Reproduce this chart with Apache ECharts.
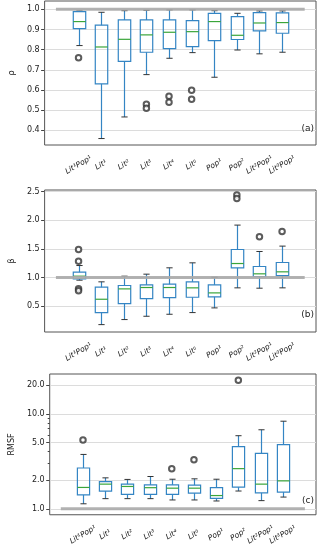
<!DOCTYPE html>
<html>
<head>
<meta charset="UTF-8">
<title>Boxplots rho beta RMSF</title>
<script src="https://cdn.jsdelivr.net/npm/echarts@6/dist/echarts.min.js"></script>
<style>
    body { margin: 0; padding: 0; background: #fff; }
    #chart { width: 320px; height: 547px; }
</style>
</head>
<body>
<div id="chart"></div>
<script>
    // categories (superscripts as unicode)
    var categories = ['Lit¹Pop¹', 'Lit¹', 'Lit²', 'Lit³', 'Lit⁴', 'Lit⁵', 'Pop¹', 'Pop²', 'Lit²Pop¹', 'Lit³Pop¹'];

    // box stats: [low whisker, Q1, median, Q3, high whisker]
    var rhoBoxes = [
        [0.820, 0.904, 0.939, 0.988, 0.992],
        [0.359, 0.630, 0.813, 0.921, 0.985],
        [0.466, 0.742, 0.851, 0.947, 0.993],
        [0.676, 0.787, 0.873, 0.947, 0.995],
        [0.757, 0.805, 0.886, 0.947, 0.997],
        [0.785, 0.815, 0.889, 0.944, 0.997],
        [0.663, 0.845, 0.939, 0.980, 0.993],
        [0.798, 0.850, 0.871, 0.964, 0.980],
        [0.779, 0.893, 0.932, 0.983, 0.992],
        [0.787, 0.881, 0.934, 0.982, 0.992]
    ];
    var rhoOutliers = [[0, 0.759], [3, 0.529], [3, 0.509], [4, 0.569], [4, 0.539], [5, 0.598], [5, 0.554]];

    var betaBoxes = [
        [0.955, 0.978, 1.025, 1.095, 1.211],
        [0.179, 0.389, 0.622, 0.832, 0.926],
        [0.267, 0.547, 0.803, 0.862, 1.025],
        [0.325, 0.634, 0.827, 0.873, 1.060],
        [0.360, 0.652, 0.827, 0.885, 1.171],
        [0.389, 0.657, 0.821, 0.926, 1.258],
        [0.471, 0.663, 0.733, 0.873, 1.007],
        [0.821, 1.171, 1.246, 1.491, 1.917],
        [0.815, 1.019, 1.066, 1.194, 1.456],
        [0.821, 1.036, 1.101, 1.264, 1.550]
    ];
    var betaOutliers = [[0, 1.491], [0, 1.287], [0, 0.805], [0, 0.770], [7, 2.442], [7, 2.383], [8, 1.713], [9, 1.806]];

    var rmsfBoxes = [
        [1.13, 1.40, 1.68, 2.69, 3.74],
        [1.28, 1.54, 1.82, 1.93, 2.12],
        [1.28, 1.42, 1.72, 1.82, 2.04],
        [1.28, 1.42, 1.67, 1.79, 2.19],
        [1.24, 1.42, 1.65, 1.79, 2.05],
        [1.24, 1.46, 1.65, 1.78, 2.07],
        [1.21, 1.29, 1.38, 1.67, 2.05],
        [1.54, 1.69, 2.65, 4.53, 5.89],
        [1.22, 1.47, 1.82, 3.83, 6.80],
        [1.33, 1.50, 1.97, 4.75, 8.37]
    ];
    var rmsfOutliers = [[0, 5.31], [4, 2.65], [5, 3.29], [7, 22.6]];

    // ideal value drawn as a gray line on every panel
    var idealValue = 1.0;

    // tick values
    var rhoTicks = [0.4, 0.5, 0.6, 0.7, 0.8, 0.9, 1.0];
    var betaTicks = [0.5, 1.0, 1.5, 2.0, 2.5];
    var rmsfTicks = [1, 2, 5, 10, 20];
    var rmsfMinorTicks = [3, 4, 6, 7, 8, 9];

    var font = 'DejaVu Sans';
    var padded = [''].concat(categories, ['']);

    var chart = echarts.init(document.getElementById('chart'));

    function xAxisFor(grid) {
        return {
            type: 'category', gridIndex: grid, data: padded,
            boundaryGap: true,
            axisLine: { show: false },
            axisTick: {
                alignWithLabel: true, length: 3.5, inside: false,
                interval: function (i, v) { return v !== ''; },
                lineStyle: { color: '#444', width: 1 }
            },
            axisLabel: {
                interval: 0, rotate: 30, align: 'center', verticalAlign: 'middle', margin: 20,
                fontFamily: font, fontStyle: 'italic', fontSize: 7.5, color: '#222'
            },
            splitLine: { show: false }
        };
    }

    function yAxisFor(grid, name, ticks, min, max, type, gap) {
        return {
            type: type, gridIndex: grid, min: min, max: max, position: 'left', offset: 0,
            name: name, nameLocation: 'middle', nameGap: gap,
            nameTextStyle: { fontFamily: font, fontSize: 8, color: '#222' },
            axisLine: { show: false },
            axisTick: { show: true, customValues: ticks, length: 3.5, lineStyle: { color: '#444' } },
            axisLabel: {
                customValues: ticks, fontFamily: font, fontSize: 8, color: '#222', margin: 5,
                formatter: function (v) { return Number(v).toFixed(1); }
            },
            splitLine: { show: true, lineStyle: { color: '#dcdcdc', width: 1 } }
        };
    }

    function boxSeries(grid, boxes) {
        return {
            type: 'custom', xAxisIndex: grid, yAxisIndex: grid, z: 3,
            data: boxes.map(function (b, i) { return [i + 1].concat(b); }),
            encode: { x: 0, y: [1, 2, 3, 4, 5] },
            renderItem: function (params, api) {
                var x = api.value(0);
                var lo = api.coord([x, api.value(1)]);
                var q1 = api.coord([x, api.value(2)]);
                var md = api.coord([x, api.value(3)]);
                var q3 = api.coord([x, api.value(4)]);
                var hi = api.coord([x, api.value(5)]);
                var bw = api.size([1, 0])[0] * 0.55;
                var cx = Math.round(lo[0]) + 0.5;
                var blue = { stroke: '#3485c4', lineWidth: 1.2, fill: 'none' };
                var cap = { stroke: '#333', lineWidth: 1 };
                return {
                    type: 'group',
                    children: [
                        { type: 'line', shape: { x1: cx, y1: lo[1], x2: cx, y2: q1[1] }, style: blue },
                        { type: 'line', shape: { x1: cx, y1: q3[1], x2: cx, y2: hi[1] }, style: blue },
                        { type: 'line', shape: { x1: cx - bw / 4, y1: lo[1], x2: cx + bw / 4, y2: lo[1] }, style: cap },
                        { type: 'line', shape: { x1: cx - bw / 4, y1: hi[1], x2: cx + bw / 4, y2: hi[1] }, style: cap },
                        { type: 'rect', shape: { x: cx - bw / 2, y: q3[1], width: bw, height: q1[1] - q3[1] }, style: blue },
                        { type: 'line', shape: { x1: cx - bw / 2, y1: md[1], x2: cx + bw / 2, y2: md[1] }, style: { stroke: '#3aa53a', lineWidth: 1.2 } }
                    ]
                };
            }
        };
    }

    function outlierSeries(grid, pts) {
        return {
            type: 'scatter', xAxisIndex: grid, yAxisIndex: grid, z: 4,
            symbol: 'emptyCircle', symbolSize: 5.5,
            itemStyle: { color: '#333', borderColor: '#333', borderWidth: 1 },
            data: pts.map(function (p) { return [p[0] + 1, p[1]]; })
        };
    }

    function idealLine(grid) {
        return {
            type: 'line', xAxisIndex: grid, yAxisIndex: grid, z: 5,
            showSymbol: false, silent: true,
            lineStyle: { color: '#aaaaaa', width: 3, opacity: 0.9 },
            data: padded.map(function () { return idealValue; })
        };
    }

    function panelTitle(text, top) {
        return {
            text: text, right: 6, top: top, padding: 0,
            textStyle: { fontFamily: font, fontSize: 9, fontWeight: 'normal', color: '#222' }
        };
    }

    var rmsfAxis = yAxisFor(2, 'RMSF', rmsfTicks, 0.866, 26.3, 'log', 31);
    rmsfAxis.logBase = 10;

    // minor ticks of the log axis, drawn by a second axis without labels
    var rmsfMinorAxis = yAxisFor(2, '', rmsfMinorTicks, 0.866, 26.3, 'log', 0);
    rmsfMinorAxis.logBase = 10;
    rmsfMinorAxis.axisTick = { show: true, customValues: rmsfMinorTicks, length: 2, lineStyle: { color: '#444' } };
    rmsfMinorAxis.axisLabel = { show: false };
    rmsfMinorAxis.splitLine = { show: false };

    var option = {
        animation: false,
        title: [panelTitle('(a)', 124), panelTitle('(b)', 310), panelTitle('(c)', 496)],
        grid: [
            { left: 36, right: 4, top: 1, height: 144, show: true, borderColor: '#555', borderWidth: 1, backgroundColor: 'transparent' },
            { left: 36, right: 4, top: 190, height: 142, show: true, borderColor: '#555', borderWidth: 1, backgroundColor: 'transparent' },
            { left: 36, right: 4, top: 374, height: 142.5, show: true, borderColor: '#555', borderWidth: 1, backgroundColor: 'transparent' }
        ],
        xAxis: [xAxisFor(0), xAxisFor(1), xAxisFor(2)],
        yAxis: [
            yAxisFor(0, 'ρ', rhoTicks, 0.327, 1.041, 'value', 26),
            yAxisFor(1, 'β', betaTicks, 0.05, 2.53, 'value', 26),
            rmsfAxis,
            rmsfMinorAxis
        ],
        series: [
            boxSeries(0, rhoBoxes), outlierSeries(0, rhoOutliers), idealLine(0),
            boxSeries(1, betaBoxes), outlierSeries(1, betaOutliers), idealLine(1),
            boxSeries(2, rmsfBoxes), outlierSeries(2, rmsfOutliers), idealLine(2)
        ]
    };
    chart.setOption(option);
</script>
</body>
</html>
